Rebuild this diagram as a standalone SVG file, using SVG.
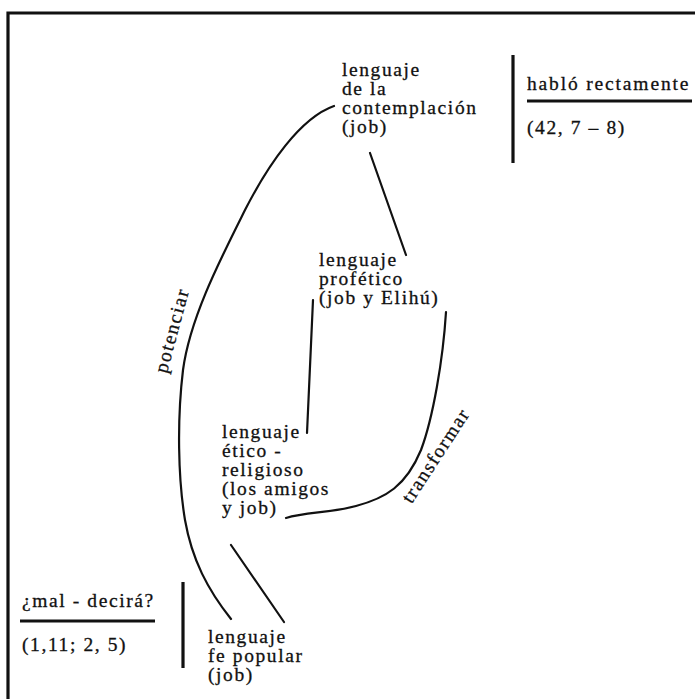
<svg xmlns="http://www.w3.org/2000/svg" width="695" height="699" viewBox="0 0 695 699">
<style>
text{font-family:"Liberation Serif","Times New Roman",serif;font-size:19.5px;letter-spacing:1.6px;fill:#111;stroke:#111;stroke-width:0.3px}
.ln{fill:none;stroke:#111;stroke-width:2.2;stroke-linecap:round;stroke-linejoin:round}
.bar{fill:none;stroke:#111;stroke-width:3.2}
</style>
<rect width="695" height="699" fill="#fff"/>
<path class="bar" d="M8,699 V13 H695"/>
<g id="connectors">
<path class="ln" d="M334,106 C300,118 268,165 245,210 C220,260 190,318 183,370 C177,420 178,478 185,520 C192,560 208,590 231,619"/>
<path class="ln" d="M231,545 L284,622"/>
<path class="ln" d="M370,153 L406,255"/>
<path class="ln" d="M313,300 Q310,360 307,433"/>
<path class="ln" d="M446,312 C443,360 433,418 421,450 C406,486 386,498 356,506 C330,513 306,512 286,518"/>
<text transform="translate(178,332) rotate(-75)" text-anchor="middle">potenciar</text>
<text transform="translate(441,459) rotate(-57)" text-anchor="middle">transformar</text>
</g>
<g id="n-contemplacion">
<text x="342" y="76">lenguaje</text>
<text x="342" y="95">de la</text>
<text x="342" y="114">contemplación</text>
<text x="342" y="133">(job)</text>
</g>
<g id="n-hablo">
<line class="bar" x1="513" y1="55" x2="513" y2="163"/>
<text x="527" y="90" textLength="163" lengthAdjust="spacing">habló rectamente</text>
<line class="bar" x1="527" y1="101" x2="692" y2="101"/>
<text x="527" y="134">(42, 7 – 8)</text>
</g>
<g id="n-profetico">
<text x="319" y="266">lenguaje</text>
<text x="319" y="285">profético</text>
<text x="319" y="304">(job y Elihú)</text>
</g>
<g id="n-etico">
<text x="222" y="438">lenguaje</text>
<text x="222" y="457">ético -</text>
<text x="222" y="476">religioso</text>
<text x="222" y="495">(los amigos</text>
<text x="222" y="514">y job)</text>
</g>
<g id="n-popular">
<text x="208" y="643">lenguaje</text>
<text x="208" y="662">fe popular</text>
<text x="208" y="681">(job)</text>
</g>
<g id="n-mal">
<text x="22" y="607">¿mal - decirá?</text>
<line class="bar" x1="20" y1="621" x2="155" y2="621"/>
<text x="22" y="651">(1,11; 2, 5)</text>
<line class="bar" x1="183" y1="582" x2="183" y2="668"/>
</g>
</svg>
